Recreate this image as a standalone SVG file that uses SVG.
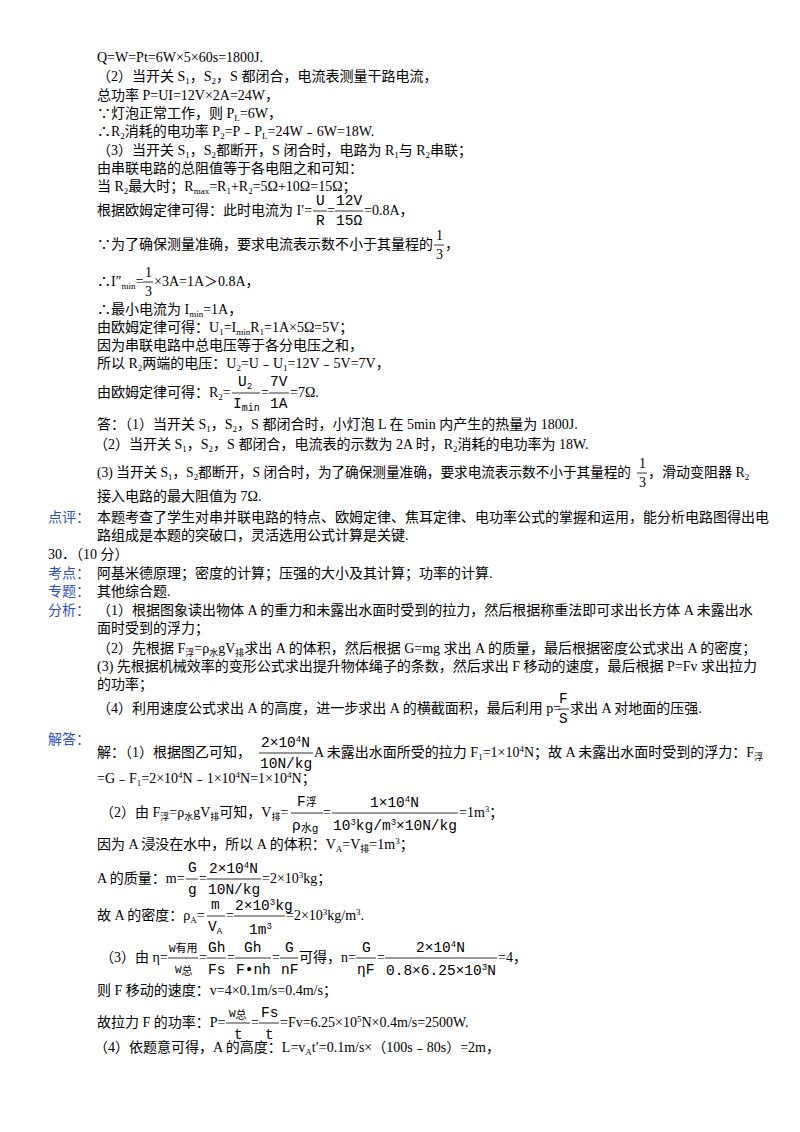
<svg xmlns="http://www.w3.org/2000/svg" width="800" height="1132" viewBox="0 0 800 1132">
<style>
text{font-family:"Liberation Serif","Noto Sans CJK SC",serif;font-size:14px;fill:#000}
.l{fill:#2b50c8}
.s{font-size:9px}
.f{font-family:"Liberation Mono","Noto Sans CJK SC",monospace;font-size:14.5px}
.g{font-size:11px}
.b{stroke:#000;stroke-width:0.8}
</style>
<rect width="800" height="1132" fill="#fff"/>
<g id="part1">
<text x="97" y="62">Q=W=Pt=6W×5×60s=1800J.</text>
<text x="97" y="81">（2）当开关 S<tspan class="s" dy="3">1</tspan><tspan dy="-3">，S</tspan><tspan class="s" dy="3">2</tspan><tspan dy="-3">，S 都闭合，电流表测量干路电流，</tspan></text>
<text x="97" y="100">总功率 P=UI=12V×2A=24W，</text>
<text x="97" y="118">∵灯泡正常工作，则 P<tspan class="s" dy="3">L</tspan><tspan dy="-3">=6W，</tspan></text>
<text x="97" y="136">∴R<tspan class="s" dy="3">2</tspan><tspan dy="-3">消耗的电功率 P</tspan><tspan class="s" dy="3">2</tspan><tspan dy="-3">=P﹣P</tspan><tspan class="s" dy="3">L</tspan><tspan dy="-3">=24W﹣6W=18W.</tspan></text>
<text x="97" y="155">（3）当开关 S<tspan class="s" dy="3">1</tspan><tspan dy="-3">，S</tspan><tspan class="s" dy="3">2</tspan><tspan dy="-3">都断开，S 闭合时，电路为 R</tspan><tspan class="s" dy="3">1</tspan><tspan dy="-3">与 R</tspan><tspan class="s" dy="3">2</tspan><tspan dy="-3">串联；</tspan></text>
<text x="97" y="173">由串联电路的总阻值等于各电阻之和可知：</text>
<text x="97" y="191">当 R<tspan class="s" dy="3">2</tspan><tspan dy="-3">最大时；R</tspan><tspan class="s" dy="3">max</tspan><tspan dy="-3">=R</tspan><tspan class="s" dy="3">1</tspan><tspan dy="-3">+R</tspan><tspan class="s" dy="3">2</tspan><tspan dy="-3">=5Ω+10Ω=15Ω；</tspan></text>
<text x="97" y="215">根据欧姆定律可得：此时电流为 I′=</text>
<text class="f" x="316" y="205">U</text><line class="b" x1="313" y1="211" x2="327" y2="211"/><text class="f" x="316" y="225">R</text>
<text x="327" y="215">=</text>
<text class="f" x="336" y="205">12V</text><line class="b" x1="335" y1="211" x2="363" y2="211"/><text class="f" x="336" y="225">15Ω</text>
<text x="364" y="215">=0.8A，</text>
<text x="97" y="249">∵为了确保测量准确，要求电流表示数不小于其量程的</text>
<text x="436" y="240">1</text><line class="b" x1="434" y1="245" x2="444" y2="245"/><text x="436" y="259">3</text>
<text x="445" y="249">，</text>
<text x="97" y="286">∴I″<tspan class="s" dy="3">min</tspan><tspan dy="-3">=</tspan></text>
<text x="145" y="277">1</text><line class="b" x1="143" y1="282" x2="153" y2="282"/><text x="145" y="296">3</text>
<text x="154" y="286">×3A=1A＞0.8A，</text>
<text x="97" y="314">∴最小电流为 I<tspan class="s" dy="3">min</tspan><tspan dy="-3">=1A，</tspan></text>
<text x="97" y="332">由欧姆定律可得：U<tspan class="s" dy="3">1</tspan><tspan dy="-3">=I</tspan><tspan class="s" dy="3">min</tspan><tspan dy="-3">R</tspan><tspan class="s" dy="3">1</tspan><tspan dy="-3">=1A×5Ω=5V；</tspan></text>
<text x="97" y="350">因为串联电路中总电压等于各分电压之和，</text>
<text x="97" y="368">所以 R<tspan class="s" dy="3">2</tspan><tspan dy="-3">两端的电压：U</tspan><tspan class="s" dy="3">2</tspan><tspan dy="-3">=U﹣U</tspan><tspan class="s" dy="3">1</tspan><tspan dy="-3">=12V﹣5V=7V，</tspan></text>
<text x="97" y="397">由欧姆定律可得：R<tspan class="s" dy="3">2</tspan><tspan dy="-3">=</tspan></text>
<text class="f" x="238" y="386">U<tspan class="s" dy="3">2</tspan></text><line class="b" x1="232" y1="393" x2="260" y2="393"/><text class="f" x="233" y="408">I<tspan font-size="10" dy="3">min</tspan></text>
<text x="261" y="397">=</text>
<text class="f" x="270" y="386">7V</text><line class="b" x1="269" y1="393" x2="289" y2="393"/><text class="f" x="270" y="408">1A</text>
<text x="290" y="397">=7Ω.</text>
<text x="97" y="429">答：（1）当开关 S<tspan class="s" dy="3">1</tspan><tspan dy="-3">，S</tspan><tspan class="s" dy="3">2</tspan><tspan dy="-3">，S 都闭合时，小灯泡 L 在 5min 内产生的热量为 1800J.</tspan></text>
<text x="94" y="449">（2）当开关 S<tspan class="s" dy="3">1</tspan><tspan dy="-3">，S</tspan><tspan class="s" dy="3">2</tspan><tspan dy="-3">，S 都闭合，电流表的示数为 2A 时，R</tspan><tspan class="s" dy="3">2</tspan><tspan dy="-3">消耗的电功率为 18W.</tspan></text>
<text x="97" y="477" textLength="534" lengthAdjust="spacingAndGlyphs">(3) 当开关 S<tspan class="s" dy="3">1</tspan><tspan dy="-3">，S</tspan><tspan class="s" dy="3">2</tspan><tspan dy="-3">都断开，S 闭合时，为了确保测量准确，要求电流表示数不小于其量程的</tspan></text>
<text x="639" y="468">1</text><line class="b" x1="637" y1="473" x2="647" y2="473"/><text x="639" y="487">3</text>
<text x="648" y="477">，滑动变阻器 R<tspan class="s" dy="3">2</tspan></text>
<text x="97" y="501">接入电路的最大阻值为 7Ω.</text>
</g>
<g id="part2">
<text class="l" x="48" y="522">点评：</text>
<text x="97" y="522">本题考查了学生对串并联电路的特点、欧姆定律、焦耳定律、电功率公式的掌握和运用，能分析电路图得出电</text>
<text x="97" y="540">路组成是本题的突破口，灵活选用公式计算是关键.</text>
<text x="48" y="559">30．（10 分）</text>
<text class="l" x="48" y="578">考点：</text><text x="97" y="578">阿基米德原理；密度的计算；压强的大小及其计算；功率的计算.</text>
<text class="l" x="48" y="596">专题：</text><text x="97" y="596">其他综合题.</text>
<text class="l" x="48" y="615">分析：</text><text x="97" y="615">（1）根据图象读出物体 A 的重力和未露出水面时受到的拉力，然后根据称重法即可求出长方体 A 未露出水</text>
<text x="97" y="633">面时受到的浮力；</text>
<text x="97" y="653">（2）先根据 F<tspan class="s" dy="3">浮</tspan><tspan dy="-3">=ρ</tspan><tspan class="s" dy="3">水</tspan><tspan dy="-3">gV</tspan><tspan class="s" dy="3">排</tspan><tspan dy="-3">求出 A 的体积，然后根据 G=mg 求出 A 的质量，最后根据密度公式求出 A 的密度；</tspan></text>
<text x="97" y="671">(3) 先根据机械效率的变形公式求出提升物体绳子的条数，然后求出 F 移动的速度，最后根据 P=Fv 求出拉力</text>
<text x="97" y="689">的功率；</text>
<text x="97" y="713">（4）利用速度公式求出 A 的高度，进一步求出 A 的横截面积，最后利用 p=</text>
<text class="f" x="559" y="703">F</text><line class="b" x1="558" y1="709" x2="569" y2="709"/><text class="f" x="559" y="723">S</text>
<text x="570" y="713">求出 A 对地面的压强.</text>
</g>
<g id="part3">
<text class="l" x="48" y="744">解答：</text>
<text x="97" y="757">解：（1）根据图乙可知，</text>
<text class="f" x="261" y="747">2×10<tspan class="s" dy="-5">4</tspan><tspan dy="5">N</tspan></text><line class="b" x1="259" y1="753" x2="313" y2="753"/><text class="f" x="260" y="768">10N/kg</text>
<text x="314" y="757">A 未露出水面所受的拉力 F<tspan class="s" dy="3">1</tspan><tspan dy="-3">=1×10</tspan><tspan class="s" dy="-5">4</tspan><tspan dy="5">N；故 A 未露出水面时受到的浮力：F</tspan><tspan class="s" dy="3">浮</tspan></text>
<text x="97" y="783">=G﹣F<tspan class="s" dy="3">1</tspan><tspan dy="-3">=2×10</tspan><tspan class="s" dy="-5">4</tspan><tspan dy="5">N﹣1×10</tspan><tspan class="s" dy="-5">4</tspan><tspan dy="5">N=1×10</tspan><tspan class="s" dy="-5">4</tspan><tspan dy="5">N；</tspan></text>
<text x="100" y="817">（2）由 F<tspan class="s" dy="3">浮</tspan><tspan dy="-3">=ρ</tspan><tspan class="s" dy="3">水</tspan><tspan dy="-3">gV</tspan><tspan class="s" dy="3">排</tspan><tspan dy="-3">可知，V</tspan><tspan class="s" dy="3">排</tspan><tspan dy="-3">=</tspan></text>
<text class="f" x="297" y="806">F<tspan class="g">浮</tspan></text><line class="b" x1="291" y1="813" x2="323" y2="813"/><text class="f" x="292" y="830">ρ<tspan class="g" dy="2">水</tspan><tspan class="g">g</tspan></text>
<text x="323" y="817">=</text>
<text class="f" x="370" y="807">1×10<tspan class="s" dy="-5">4</tspan><tspan dy="5">N</tspan></text><line class="b" x1="332" y1="813" x2="458" y2="813"/><text class="f" x="333" y="830">10<tspan class="s" dy="-5">3</tspan><tspan dy="5">kg/m</tspan><tspan class="s" dy="-5">3</tspan><tspan dy="5">×10N/kg</tspan></text>
<text x="459" y="817">=1m<tspan class="s" dy="-5">3</tspan><tspan dy="5">；</tspan></text>
<text x="97" y="849">因为 A 浸没在水中，所以 A 的体积：V<tspan class="s" dy="3">A</tspan><tspan dy="-3">=V</tspan><tspan class="s" dy="3">排</tspan><tspan dy="-3">=1m</tspan><tspan class="s" dy="-5">3</tspan><tspan dy="5">；</tspan></text>
<text x="97" y="883">A 的质量：m=</text>
<text class="f" x="188" y="872">G</text><line class="b" x1="186" y1="879" x2="198" y2="879"/><text class="f" x="188" y="894">g</text>
<text x="199" y="883">=</text>
<text class="f" x="209" y="873">2×10<tspan class="s" dy="-5">4</tspan><tspan dy="5">N</tspan></text><line class="b" x1="207" y1="879" x2="261" y2="879"/><text class="f" x="208" y="894">10N/kg</text>
<text x="262" y="883">=2×10<tspan class="s" dy="-5">3</tspan><tspan dy="5">kg；</tspan></text>
<text x="97" y="920">故 A 的密度：ρ<tspan class="s" dy="3">A</tspan><tspan dy="-3">=</tspan></text>
<text class="f" x="211" y="909">m</text><line class="b" x1="207" y1="916" x2="225" y2="916"/><text class="f" x="208" y="931">V<tspan class="s" dy="3">A</tspan></text>
<text x="226" y="920">=</text>
<text class="f" x="235" y="910">2×10<tspan class="s" dy="-5">3</tspan><tspan dy="5">kg</tspan></text><line class="b" x1="234" y1="916" x2="285" y2="916"/><text class="f" x="249" y="934">1m<tspan class="s" dy="-5">3</tspan></text>
<text x="286" y="920">=2×10<tspan class="s" dy="-5">3</tspan><tspan dy="5">kg/m</tspan><tspan class="s" dy="-5">3</tspan><tspan dy="5">.</tspan></text>
<text x="100" y="962">（3）由 η=</text>
<text class="f g" x="169" y="952">W有用</text><line class="b" x1="168" y1="958" x2="198" y2="958"/><text class="f g" x="175" y="973">W<tspan dy="2">总</tspan></text>
<text x="199" y="962">=</text>
<text class="f" x="208" y="952">Gh</text><line class="b" x1="207" y1="958" x2="226" y2="958"/><text class="f" x="208" y="974">Fs</text>
<text x="227" y="962">=</text>
<text class="f" x="244" y="952">Gh</text><line class="b" x1="235" y1="958" x2="271" y2="958"/><text class="f" x="236" y="974">F•nh</text>
<text x="272" y="962">=</text>
<text class="f" x="285" y="952">G</text><line class="b" x1="280" y1="958" x2="298" y2="958"/><text class="f" x="281" y="974">nF</text>
<text x="299" y="962">可得，n=</text>
<text class="f" x="362" y="952">G</text><line class="b" x1="356" y1="958" x2="376" y2="958"/><text class="f" x="357" y="974">ηF</text>
<text x="377" y="962">=</text>
<text class="f" x="416" y="952">2×10<tspan class="s" dy="-5">4</tspan><tspan dy="5">N</tspan></text><line class="b" x1="385" y1="958" x2="497" y2="958"/><text class="f" x="386" y="975">0.8×6.25×10<tspan class="s" dy="-5">3</tspan><tspan dy="5">N</tspan></text>
<text x="498" y="962">=4，</text>
<text x="97" y="995">则 F 移动的速度：v=4×0.1m/s=0.4m/s；</text>
<text x="97" y="1027">故拉力 F 的功率：P=</text>
<text class="f g" x="229" y="1017">W<tspan dy="2">总</tspan></text><line class="b" x1="226" y1="1023" x2="250" y2="1023"/><text class="f" x="234" y="1039">t</text>
<text x="251" y="1027">=</text>
<text class="f" x="261" y="1017">Fs</text><line class="b" x1="259" y1="1023" x2="279" y2="1023"/><text class="f" x="265" y="1039">t</text>
<text x="280" y="1027">=Fv=6.25×10<tspan class="s" dy="-5">5</tspan><tspan dy="5">N×0.4m/s=2500W.</tspan></text>
<text x="94" y="1052">（4）依题意可得，A 的高度：L=v<tspan class="s" dy="3">A</tspan><tspan dy="-3">t′=0.1m/s×（100s﹣80s）=2m，</tspan></text>
</g>
</svg>
